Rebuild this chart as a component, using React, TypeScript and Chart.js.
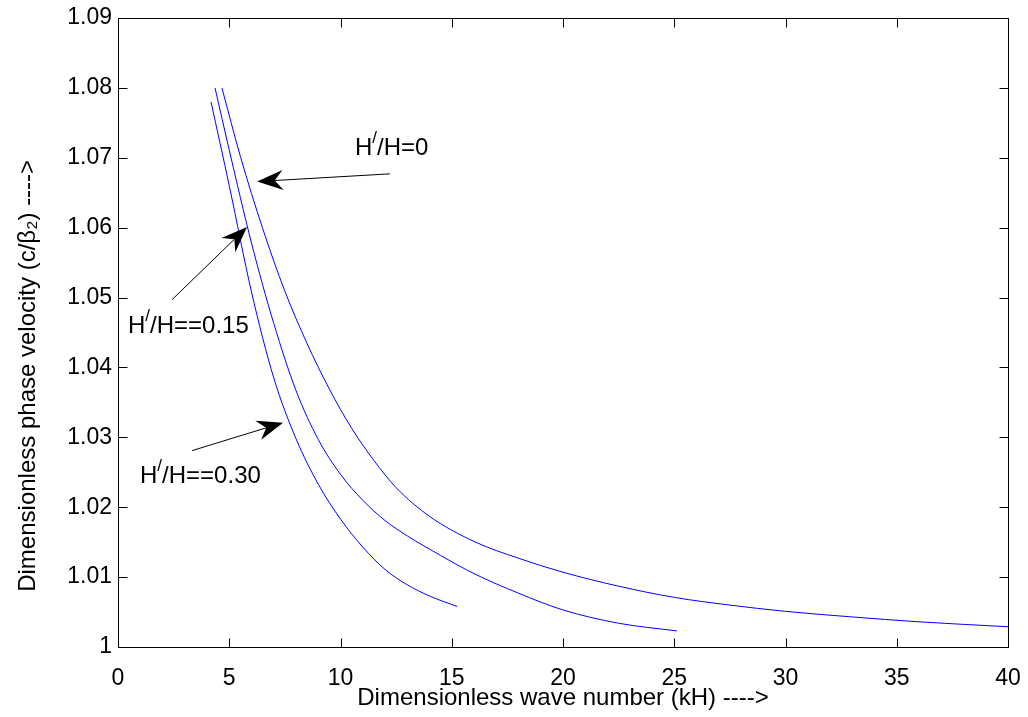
import { useEffect, useRef } from 'react';
import { Chart, registerables } from 'chart.js';

Chart.register(...registerables);

const FONT = '"Liberation Sans", Arial, Helvetica, sans-serif';

// Tick values
const xTickValues = [0, 5, 10, 15, 20, 25, 30, 35, 40];
const yTickValues = [1, 1.01, 1.02, 1.03, 1.04, 1.05, 1.06, 1.07, 1.08, 1.09];

// H'/H = 0
const k0 = [4.67, 5.5, 6.5, 7.5, 8.5, 9.5, 10.5, 11.5, 12.5, 14, 16, 18, 20, 22.5, 25, 27.5, 30, 33, 36, 40];
const c0 = [1.0800, 1.0702, 1.0599, 1.0509, 1.0434, 1.0369, 1.0313, 1.0267, 1.0228, 1.0187, 1.0151, 1.0127, 1.0107, 1.0087, 1.0071, 1.0060, 1.0051, 1.0043, 1.0036, 1.0029];

// H'/H = 0.15
const k15 = [4.36, 5.0, 6.0, 7.0, 8.0, 9.0, 10.0, 11.0, 12.0, 13.0, 14.5, 16.0, 18.0, 20.0, 22.5, 25.12];
const c15 = [1.0800, 1.0711, 1.0578, 1.0463, 1.0367, 1.0297, 1.0247, 1.0210, 1.0181, 1.0159, 1.0131, 1.0105, 1.0077, 1.0053, 1.0034, 1.0023];

// H'/H = 0.30
const k30 = [4.18, 5.0, 6.0, 7.0, 8.0, 9.0, 10.0, 11.0, 12.0, 13.0, 14.0, 15.24];
const c30 = [1.0780, 1.0660, 1.0508, 1.0385, 1.0298, 1.0233, 1.0183, 1.0143, 1.0111, 1.0089, 1.0073, 1.0058];

// Annotations (data units)
const annoLabels = ['/H=0', '/H==0.15', '/H==0.30'];
const annoLabelX = [10.65, 0.45, 0.99];
const annoLabelY = [1.0704, 1.0450, 1.0234];
const arrowFromX = [12.22, 2.43, 3.33];
const arrowFromY = [1.0677, 1.0497, 1.0281];
const arrowToX = [6.25, 5.80, 7.42];
const arrowToY = [1.0666, 1.0601, 1.0321];

const toPts = (xs: number[], ys: number[]) => xs.map((x, i) => ({ x, y: ys[i] }));

const zeroPad = (s: any) => {
  s.paddingLeft = 0;
  s.paddingRight = 0;
  s.paddingTop = 0;
  s.paddingBottom = 0;
};

const boxTicksPlugin = {
  id: 'boxTicks',
  afterDraw(chart: any) {
    const { ctx, chartArea: a, scales } = chart;
    ctx.save();
    ctx.strokeStyle = '#000';
    ctx.lineWidth = 1;
    const L = Math.round(a.left) + 0.5;
    const R = Math.round(a.right) + 0.5;
    const T = Math.round(a.top) + 0.5;
    const B = Math.round(a.bottom) + 0.5;
    ctx.beginPath();
    ctx.rect(L, T, R - L, B - T);
    ctx.stroke();
    const len = 9;
    ctx.beginPath();
    for (const v of xTickValues) {
      const x = Math.round(scales.x.getPixelForValue(v)) + 0.5;
      ctx.moveTo(x, B); ctx.lineTo(x, B - len);
      ctx.moveTo(x, T); ctx.lineTo(x, T + len);
    }
    for (const v of yTickValues) {
      const y = Math.round(scales.y.getPixelForValue(v)) + 0.5;
      ctx.moveTo(L, y); ctx.lineTo(L + len, y);
      ctx.moveTo(R, y); ctx.lineTo(R - len, y);
    }
    ctx.stroke();

    // annotations
    ctx.fillStyle = '#000';
    for (let i = 0; i < annoLabels.length; i++) {
      const fx = scales.x.getPixelForValue(arrowFromX[i]);
      const fy = scales.y.getPixelForValue(arrowFromY[i]);
      const tx = scales.x.getPixelForValue(arrowToX[i]);
      const ty = scales.y.getPixelForValue(arrowToY[i]);
      const dx = tx - fx, dy = ty - fy;
      const d = Math.hypot(dx, dy);
      const ux = dx / d, uy = dy / d;
      const px = -uy, py = ux;
      const HL = 26, HW = 10;
      const bx = tx - ux * HL, by = ty - uy * HL;
      const nx = tx - ux * HL * 0.68, ny = ty - uy * HL * 0.68;
      ctx.beginPath();
      ctx.moveTo(fx, fy);
      ctx.lineTo(nx, ny);
      ctx.stroke();
      ctx.beginPath();
      ctx.moveTo(tx, ty);
      ctx.lineTo(bx + px * HW, by + py * HW);
      ctx.lineTo(nx, ny);
      ctx.lineTo(bx - px * HW, by - py * HW);
      ctx.closePath();
      ctx.fill();

      // label: H + superscript '/' + rest
      const lx = scales.x.getPixelForValue(annoLabelX[i]);
      const ly = scales.y.getPixelForValue(annoLabelY[i]);
      ctx.textBaseline = 'alphabetic';
      ctx.textAlign = 'left';
      ctx.font = `24px ${FONT}`;
      ctx.fillText('H', lx, ly);
      const hw = ctx.measureText('H').width;
      ctx.font = `17px ${FONT}`;
      ctx.fillText('/', lx + hw, ly - 12);
      const sw = ctx.measureText('/').width;
      ctx.font = `24px ${FONT}`;
      ctx.fillText(annoLabels[i], lx + hw + sw, ly);
    }
    ctx.restore();
  },
};

export default function App() {
  const ref = useRef<HTMLCanvasElement | null>(null);
  useEffect(() => {
    if (!ref.current) return;
    Chart.defaults.font.family = FONT;
    Chart.defaults.color = '#000';
    const ds = (xs: number[], ys: number[], label: string) => ({
      label,
      data: toPts(xs, ys),
      borderColor: 'rgb(0,0,255)',
      backgroundColor: 'rgb(0,0,255)',
      borderWidth: 1,
      pointRadius: 0,
      fill: false,
      cubicInterpolationMode: 'monotone' as const,
    });
    const chart = new Chart(ref.current, {
      type: 'line',
      data: {
        datasets: [
          ds(k0, c0, "H'/H=0"),
          ds(k15, c15, "H'/H=0.15"),
          ds(k30, c30, "H'/H=0.30"),
        ],
      },
      options: {
        animation: false,
        responsive: true,
        maintainAspectRatio: false,
        layout: { padding: { left: 0, right: 20, top: 18, bottom: 0 } },
        plugins: { legend: { display: false }, tooltip: { enabled: false } },
        scales: {
          x: {
            type: 'linear',
            min: 0,
            max: 40,
            afterBuildTicks: (s: any) => { s.ticks = xTickValues.map((v) => ({ value: v })); },
            afterFit: (s: any) => { s.height = 70; zeroPad(s); },
            grid: { display: false, drawTicks: false },
            border: { display: false },
            ticks: { font: { size: 23 }, color: '#000', padding: 18, maxRotation: 0, callback: (v: any) => String(v) },
            title: {
              display: true,
              text: 'Dimensionless wave number (kH) ---->',
              font: { size: 24 },
              color: '#000',
              padding: { top: 0, bottom: 4 },
            },
          },
          y: {
            type: 'linear',
            min: 1,
            max: 1.09,
            afterBuildTicks: (s: any) => { s.ticks = yTickValues.map((v) => ({ value: v })); },
            afterFit: (s: any) => { s.width = 118; zeroPad(s); },
            grid: { display: false, drawTicks: false },
            border: { display: false },
            ticks: {
              font: { size: 23 },
              color: '#000',
              padding: 6,
              callback: (v: any) => (Math.abs(v - 1) < 1e-9 ? '1' : Number(v).toFixed(2)),
            },
            title: {
              display: true,
              text: 'Dimensionless phase velocity (c/β₂) ---->             ',
              font: { size: 24 },
              color: '#000',
              padding: { top: 14, bottom: 0 },
            },
          },
        },
      },
      plugins: [boxTicksPlugin],
    });
    return () => chart.destroy();
  }, []);
  return (
    <div style={{ position: 'fixed', left: 0, top: 0, width: 1028, height: 717, background: '#fff' }}>
      <canvas ref={ref} />
    </div>
  );
}
